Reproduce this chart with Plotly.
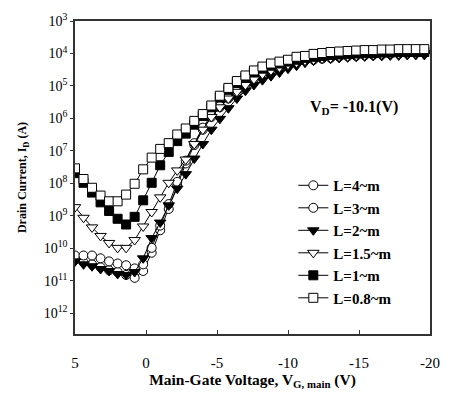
import plotly.graph_objects as go

# Main-gate voltage sweep (V)
vg = [round(5 - 0.6 * k, 1) for k in range(42)]

# Drain current (A) for each channel length
id_4um = [4.5e-11, 3.7e-11, 3.2e-11, 2.6e-11, 2.1e-11, 1.86e-11, 1.51e-11, 1.23e-11, 2.0e-11, 7.3e-11,
          3.6e-10, 1.62e-9, 8.4e-9, 4.1e-8, 1.51e-7, 4.5e-7, 1.11e-6, 2.2e-6, 4.1e-6, 6.6e-6,
          1.07e-5, 1.62e-5, 2.3e-5, 3.0e-5, 3.7e-5, 4.5e-5, 5.2e-5, 6.0e-5, 6.4e-5, 6.9e-5,
          7.3e-5, 7.9e-5, 8.1e-5, 8.4e-5, 8.7e-5, 9.0e-5, 9.3e-5, 9.7e-5, 9.7e-5, 1.0e-4,
          1.03e-4, 1.03e-4]
id_3um = [6.0e-11, 6.0e-11, 6.0e-11, 4.9e-11, 3.95e-11, 3.4e-11, 3.0e-11, 2.4e-11, 3.2e-11, 1.03e-10,
          5.0e-10, 2.3e-9, 1.11e-8, 5.0e-8, 1.73e-7, 5.2e-7, 1.27e-6, 2.4e-6, 4.4e-6, 7.6e-6,
          1.23e-5, 1.85e-5, 2.6e-5, 3.4e-5, 4.2e-5, 4.9e-5, 5.6e-5, 6.4e-5, 6.9e-5, 7.3e-5,
          7.9e-5, 8.4e-5, 8.7e-5, 9.0e-5, 9.3e-5, 9.7e-5, 1.0e-4, 1.03e-4, 1.03e-4, 1.07e-4,
          1.11e-4, 1.11e-4]
id_2um = [3.95e-11, 3.2e-11, 2.8e-11, 2.3e-11, 2.0e-11, 1.62e-11, 1.51e-11, 1.86e-11, 4.9e-11, 2.06e-10,
          6.2e-10, 2.1e-9, 6.9e-9, 1.92e-8, 5.8e-8, 1.62e-7, 4.5e-7, 9.7e-7, 2.06e-6, 4.1e-6,
          7.1e-6, 1.07e-5, 1.51e-5, 2.0e-5, 2.6e-5, 3.4e-5, 4.2e-5, 5.2e-5, 6.0e-5, 6.9e-5,
          6.9e-5, 7.3e-5, 7.6e-5, 7.9e-5, 8.1e-5, 8.4e-5, 8.4e-5, 8.7e-5, 8.7e-5, 9.0e-5,
          9.0e-5, 9.0e-5]
id_1p5um = [1.85e-9, 8.7e-10, 4.4e-10, 2.4e-10, 1.46e-10, 1.03e-10, 1.03e-10, 1.79e-10, 4.7e-10, 1.31e-9,
            3.7e-9, 1.04e-8, 2.5e-8, 5.4e-8, 1.62e-7, 4.5e-7, 1.11e-6, 2.2e-6, 4.1e-6, 6.6e-6,
            1.07e-5, 1.62e-5, 2.3e-5, 3.0e-5, 3.7e-5, 4.5e-5, 5.2e-5, 6.0e-5, 6.4e-5, 6.9e-5,
            7.3e-5, 7.9e-5, 8.1e-5, 8.4e-5, 8.7e-5, 9.0e-5, 9.3e-5, 9.7e-5, 9.7e-5, 1.0e-4,
            1.0e-4, 1.03e-4]
id_1um = [2.06e-8, 1.04e-8, 5.2e-9, 2.6e-9, 1.41e-9, 8.1e-10, 5.4e-10, 9.3e-10, 3.0e-9, 1.04e-8,
          3.6e-8, 9.3e-8, 2.0e-7, 3.4e-7, 6.4e-7, 1.19e-6, 2.2e-6, 4.4e-6, 7.6e-6, 1.23e-5,
          1.85e-5, 2.6e-5, 3.4e-5, 4.2e-5, 4.9e-5, 5.6e-5, 6.4e-5, 7.3e-5, 7.9e-5, 8.4e-5,
          9.0e-5, 9.3e-5, 9.7e-5, 1.0e-4, 1.03e-4, 1.03e-4, 1.07e-4, 1.07e-4, 1.11e-4, 1.11e-4,
          1.11e-4, 1.11e-4]
id_0p8um = [2.9e-8, 1.36e-8, 7.3e-9, 4.2e-9, 2.8e-9, 2.8e-9, 4.5e-9, 9.7e-9, 2.7e-8, 6.2e-8,
            1.15e-7, 1.73e-7, 3.2e-7, 4.9e-7, 8.4e-7, 1.36e-6, 2.5e-6, 5.0e-6, 8.7e-6, 1.41e-5,
            2.1e-5, 3.0e-5, 3.95e-5, 4.9e-5, 5.6e-5, 6.4e-5, 7.9e-5, 8.4e-5, 9.7e-5, 1.03e-4,
            1.11e-4, 1.15e-4, 1.19e-4, 1.23e-4, 1.27e-4, 1.27e-4, 1.32e-4, 1.32e-4, 1.36e-4, 1.36e-4,
            1.36e-4, 1.36e-4]

series_names = ["L=4~m", "L=3~m", "L=2~m", "L=1.5~m", "L=1~m", "L=0.8~m"]
series_values = [id_4um, id_3um, id_2um, id_1p5um, id_1um, id_0p8um]
series_symbols = ["circle", "circle", "triangle-down", "triangle-down", "square", "square"]
series_fill = ["white", "white", "black", "white", "black", "white"]

x_tickvals = [5, 0, -5, -10, -15, -20]
x_ticktext = ["5", "0", "-5", "-10", "-15", "-20"]
y_tickvals = [1e-3, 1e-4, 1e-5, 1e-6, 1e-7, 1e-8, 1e-9, 1e-10, 1e-11, 1e-12]
y_ticktext = ["10<sup>3</sup>", "10<sup>4</sup>", "10<sup>5</sup>", "10<sup>6</sup>", "10<sup>7</sup>",
              "10<sup>8</sup>", "10<sup>9</sup>", "10<sup>10</sup>", "10<sup>11</sup>", "10<sup>12</sup>"]

FONT = "Liberation Serif"

fig = go.Figure()
for name, vals, sym, fill in zip(series_names, series_values, series_symbols, series_fill):
    fig.add_trace(go.Scatter(
        x=vg, y=vals, name="<b>" + name + "</b>", mode="lines+markers",
        line=dict(color="black", width=1),
        marker=dict(symbol=sym, size=9 if sym != "triangle-down" else 10, color=fill,
                    line=dict(color="black", width=1)),
    ))

fig.add_annotation(x=0.786, y=0.725, xref="paper", yref="paper",
                   xanchor="center", yanchor="middle",
                   text="<b>V<sub>D</sub>= -10.1(V)</b>", showarrow=False,
                   font=dict(family=FONT, size=16, color="black"))

fig.update_layout(
    width=459, height=400,
    margin=dict(l=75, r=29, t=11, b=66),
    paper_bgcolor="white", plot_bgcolor="white",
    font=dict(family=FONT, color="black"),
    showlegend=True,
    legend=dict(x=0.615, y=0.527, xanchor="left", yanchor="top",
                bgcolor="rgba(0,0,0,0)", borderwidth=0,
                font=dict(family=FONT, size=15, color="black"),
                itemwidth=30),
    xaxis=dict(range=[5, -20], tickvals=x_tickvals, ticktext=x_ticktext,
               ticks="inside", ticklen=4, tickcolor="#333", showgrid=False, zeroline=False,
               showline=True, linecolor="#333", linewidth=1.5, mirror=True,
               tickfont=dict(family=FONT, size=15), ticklabelstandoff=14,
               title=dict(text="<b>Main-Gate Voltage, V<sub>G, main</sub> (V)</b>",
                          font=dict(family=FONT, size=15.5), standoff=4)),
    yaxis=dict(type="log", range=[-12.64, -3], tickvals=y_tickvals, ticktext=y_ticktext,
               ticks="outside", ticklen=3, tickcolor="#333", showgrid=False, zeroline=False,
               showline=True, linecolor="#333", linewidth=1.5, mirror=True,
               tickfont=dict(family=FONT, size=14),
               title=dict(text="<b>Drain Current, I<sub>D</sub> (A)</b>",
                          font=dict(family=FONT, size=12), standoff=14)),
)

fig.write_html("out.html")
